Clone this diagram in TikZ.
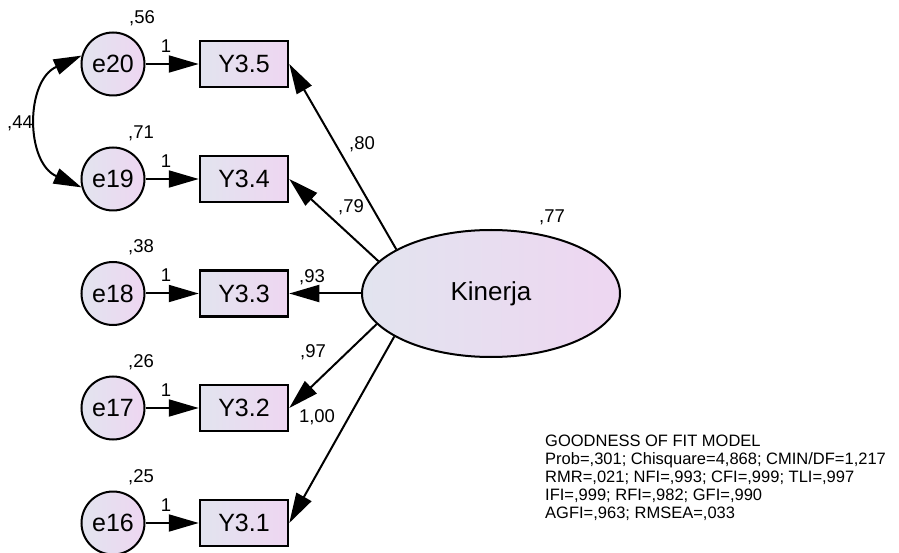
\documentclass[tikz,border=0pt]{standalone}
\usepackage{fontspec}
\setmainfont{Liberation Sans}
\usetikzlibrary{arrows.meta,shapes.geometric,calc}
\definecolor{fillL}{RGB}{226,228,239}
\definecolor{fillR}{RGB}{238,214,241}
\begin{document}
\begin{tikzpicture}[x=1pt,y=1pt,
  errc/.style={circle, draw, line width=2pt, minimum size=63pt, inner sep=0pt,
    left color=fillL, right color=fillR, font=\fontsize{25}{29}\selectfont},
  obs/.style={rectangle, draw, line width=2.5pt, minimum width=88pt, minimum height=46pt,
    inner sep=0pt, left color=fillL, right color=fillR, font=\fontsize{25}{29}\selectfont},
  lat/.style={ellipse, draw, line width=2pt, minimum width=258pt, minimum height=127pt,
    inner sep=0pt, left color=fillL, right color=fillR, font=\fontsize{26}{31}\selectfont},
  arr/.style={line width=2pt, -{Triangle[length=30pt,width=17pt]}},
  darr/.style={line width=2pt, {Triangle[length=28pt,width=16pt]}-{Triangle[length=28pt,width=16pt]}},
  lbl/.style={font=\fontsize{18.5}{22}\selectfont, inner sep=0pt}
]
\useasboundingbox (0,0) rectangle (899,552);

% error terms
\node[errc] (e20) at (113,488) {e20};
\node[errc] (e19) at (113,373) {e19};
\node[errc] (e18) at (113,258.5) {e18};
\node[errc] (e17) at (113,144) {e17};
\node[errc] (e16) at (113,29) {e16};

% observed
\node[obs] (y35) at (244,488) {Y3.5};
\node[obs] (y34) at (244,373) {Y3.4};
\node[obs] (y33) at (244,258.5) {Y3.3};
\node[obs] (y32) at (244,144) {Y3.2};
\node[obs] (y31) at (244,29) {Y3.1};

% latent
\node[lat] (K) at (491,258.5) {Kinerja};

% error arrows
\draw[arr] (e20) -- (y35);
\draw[arr] (e19) -- (y34);
\draw[arr] (e18) -- (y33);
\draw[arr] (e17) -- (y32);
\draw[arr] (e16) -- (y31);

% loadings
\draw[arr] (K.155.6) -- (y35.east);
\draw[arr] (K.164.8) -- (y34.east);
\draw[arr] (K.west) -- (y33.east);
\draw[arr] (K.195.2) -- (y32.east);
\draw[arr] (K.204.4) -- (y31.east);

% covariance
\draw[darr] (e20.165) to[out=204,in=156,looseness=1.2] (e19.195);

% labels
\node[lbl] (l56) at (142,534) {,56};
\node[lbl] (l71) at (141,419) {,71};
\node[lbl] (l38) at (141,305) {,38};
\node[lbl] (l26) at (141,190) {,26};
\node[lbl] (l25) at (141,75) {,25};
\node[lbl] (l44) at (20,429) {,44};
\node[lbl] (o1) at (166,506) {1};
\node[lbl] (o2) at (166,391) {1};
\node[lbl] (o3) at (166,276.5) {1};
\node[lbl] (o4) at (166,162) {1};
\node[lbl] (o5) at (166,47) {1};
\node[lbl] (l80) at (362,408) {,80};
\node[lbl] (l79) at (351,345) {,79};
\node[lbl] (l93) at (312,275) {,93};
\node[lbl] (l97) at (313,200) {,97};
\node[lbl] (l100) at (317,135) {1,00};
\node[lbl] (l77) at (552,335) {,77};

% fit
\node[anchor=north west, align=left, inner sep=0pt,
  font=\fontsize{16.5}{18}\selectfont] (gof) at (545,117)
  {GOODNESS OF FIT MODEL\\
   Prob=,301; Chisquare=4,868; CMIN/DF=1,217\\
   RMR=,021; NFI=,993; CFI=,999; TLI=,997\\
   IFI=,999; RFI=,982; GFI=,990\\
   AGFI=,963; RMSEA=,033};
\end{tikzpicture}
\end{document}
